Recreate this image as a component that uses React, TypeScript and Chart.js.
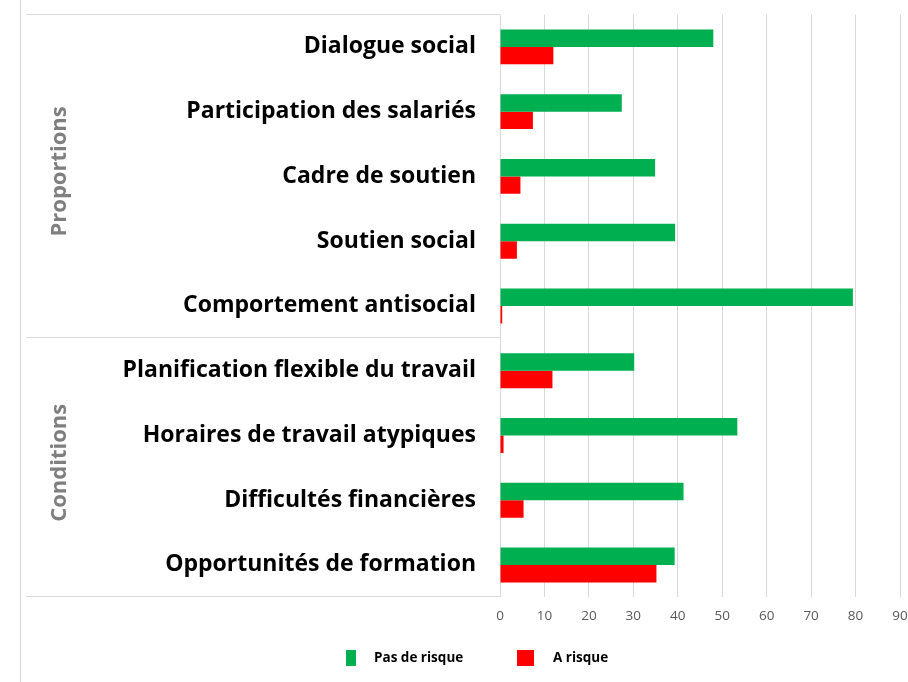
import React, { useEffect, useRef } from "react";
import { Chart, registerables } from "chart.js";

Chart.register(...registerables);

const categories = [
  "Dialogue social",
  "Participation des salariés",
  "Cadre de soutien",
  "Soutien social",
  "Comportement antisocial",
  "Planification flexible du travail",
  "Horaires de travail atypiques",
  "Difficultés financières",
  "Opportunités de formation",
];
const pasDeRisque = [48.0, 27.4, 34.9, 39.4, 79.4, 30.2, 53.4, 41.3, 39.3];
const aRisque = [12.0, 7.4, 4.6, 3.8, 0.5, 11.8, 0.8, 5.3, 35.2];
const seriesLabels = ["Pas de risque", "A risque"];
const groupLabels = ["Proportions", "Conditions"];
const groupRanges = [
  [0, 4],
  [5, 8],
];
const xMax = 90;
const xStep = 10;

const GREEN = "#00b050";
const RED = "#ff0000";
const GRID = "#d9d9d9";

const panelPlugin = {
  id: "panel",
  afterDraw(chart: any) {
    const { ctx, chartArea } = chart;
    const y = chart.scales.y;
    ctx.save();
    ctx.strokeStyle = GRID;
    ctx.lineWidth = 1;
    ctx.beginPath();
    ctx.moveTo(20.5, 0);
    ctx.lineTo(20.5, chart.height);
    ctx.stroke();
    const bounds: number[] = [];
    groupRanges.forEach((r, i) => {
      const t = y.getPixelForValue(r[0] - 0.5);
      const b = y.getPixelForValue(r[1] + 0.5);
      if (i === 0) bounds.push(t);
      bounds.push(b);
    });
    bounds.forEach((yy) => {
      const py = Math.round(yy) - 0.5;
      ctx.beginPath();
      ctx.moveTo(26, py);
      ctx.lineTo(chartArea.left, py);
      ctx.stroke();
    });
    ctx.fillStyle = "#7f7f7f";
    ctx.font = "bold 22px 'Open Sans'";
    ctx.textAlign = "center";
    ctx.textBaseline = "middle";
    groupRanges.forEach((r, i) => {
      const t = y.getPixelForValue(r[0] - 0.5);
      const b = y.getPixelForValue(r[1] + 0.5);
      ctx.save();
      ctx.translate(60, (t + b) / 2 - 5);
      ctx.rotate(-Math.PI / 2);
      ctx.fillText(groupLabels[i], 0, 0);
      ctx.restore();
    });
    const ds = chart.data.datasets;
    const items = [
      { bx: 346, bw: 10, tx: 374 },
      { bx: 517, bw: 17, tx: 553 },
    ];
    ctx.font = "bold 13.5px 'Open Sans'";
    ctx.textAlign = "left";
    ctx.textBaseline = "middle";
    items.forEach((it, i) => {
      ctx.fillStyle = ds[i].backgroundColor;
      ctx.fillRect(it.bx, 650, it.bw, 16);
      ctx.fillStyle = "#000";
      ctx.fillText(ds[i].label, it.tx, 658);
    });
    ctx.restore();
  },
};

export default function App() {
  const ref = useRef<HTMLCanvasElement>(null);
  useEffect(() => {
    document.body.style.margin = "0";
    const chart = new Chart(ref.current!, {
      type: "bar",
      data: {
        labels: categories,
        datasets: [
          {
            label: seriesLabels[0],
            data: pasDeRisque,
            backgroundColor: GREEN,
            borderWidth: 0,
            categoryPercentage: 0.54,
            barPercentage: 1,
          },
          {
            label: seriesLabels[1],
            data: aRisque,
            backgroundColor: RED,
            borderWidth: 0,
            categoryPercentage: 0.54,
            barPercentage: 1,
          },
        ],
      },
      options: {
        indexAxis: "y",
        animation: false,
        responsive: false,
        layout: { padding: { top: 14.5, right: 8, left: 0, bottom: 0 } },
        plugins: {
          legend: { display: false },
          tooltip: { enabled: false },
          title: { display: false },
        },
        scales: {
          x: {
            min: 0,
            max: xMax,
            ticks: {
              stepSize: xStep,
              color: "#595959",
              font: { family: "'Open Sans'", size: 13.5 },
              padding: 11,
            },
            grid: { color: GRID, lineWidth: 1, drawTicks: false },
            border: { display: false },
            afterFit: (s: any) => {
              s.height = 84.7;
              s.paddingLeft = 0;
              s.paddingRight = 0;
            },
          },
          y: {
            ticks: {
              color: "#000",
              font: { family: "'Open Sans'", size: 23, weight: "bold" },
              padding: 24,
            },
            grid: { display: false, drawTicks: false },
            border: { display: false },
            afterFit: (s: any) => {
              s.width = 500;
              s.paddingTop = 0;
              s.paddingBottom = 0;
            },
          },
        },
      },
      plugins: [panelPlugin],
    });
    return () => chart.destroy();
  }, []);
  return (
    <div style={{ width: 908, height: 682 }}>
      <canvas ref={ref} width={908} height={682} />
    </div>
  );
}
